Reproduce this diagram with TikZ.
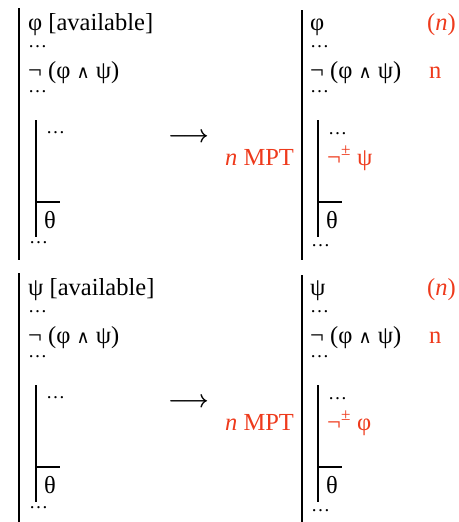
\documentclass[tikz,border=0pt]{standalone}
\usepackage{fontspec}
\setmainfont{Liberation Serif}
\newfontfamily\djvserif{DejaVu Serif}
\newcommand{\myand}{{\djvserif\fontsize{18}{18}\selectfont ∧}}
\newcommand{\thickarrow}{\rlap{$\longrightarrow$}\kern0.5pt$\longrightarrow$}
\definecolor{hl}{RGB}{238,58,28}
\begin{document}
\begin{tikzpicture}[x=1pt,y=-1pt,
  txt/.style={anchor=base west,inner sep=0pt,font=\fontsize{24.5}{28}\selectfont},
  dots/.style={anchor=base west,inner sep=0pt,text height=3pt,text depth=0pt,font=\fontsize{19}{20}\selectfont},
  red/.style={txt,text=hl},
  bar/.style={line width=1.6pt},
  hbar/.style={line width=1.2pt}]
\useasboundingbox (0,0) rectangle (458,522);
\foreach \o/\a/\b in {0/φ/ψ, 265/ψ/φ}{
  % left block
  \coordinate (lt\o) at (19,8+\o);
  \coordinate (lb\o) at (19,{min(260+\o,522)});
  \draw[bar] (lt\o) -- (lb\o);
  \node[txt] (l1\o) at (28,30+\o) {\a\ [available]};
  \node[dots] (l2\o) at (28,47+\o) {…};
  \node[txt] (l3\o) at (28,78+\o) {¬ (φ \myand\ ψ)};
  \node[dots] (l4\o) at (28,92+\o) {…};
  \coordinate (it\o) at (36,120+\o);
  \coordinate (ib\o) at (36,237+\o);
  \draw[bar] (it\o) -- (ib\o);
  \node[dots] (l5\o) at (46,133+\o) {…};
  \coordinate (hl\o) at (36,202+\o);
  \coordinate (hr\o) at (60,202+\o);
  \draw[hbar] (hl\o) -- (hr\o);
  \node[txt] (l6\o) at (44,228+\o) {θ};
  \node[dots] (l7\o) at (29,243+\o) {…};
  % arrow and label
  \node[txt,font=\fontsize{33}{33}\selectfont] (ar\o) at (168,142+\o) {\thickarrow};
  \node[red] (mp\o) at (225,165+\o) {\textit{n} MPT};
  % right block
  \coordinate (rt\o) at (302,10+\o);
  \coordinate (rb\o) at (302,{min(260+\o,522)});
  \draw[bar] (rt\o) -- (rb\o);
  \node[txt] (r1\o) at (310,30+\o) {\a};
  \node[red] (rn\o) at (427,30+\o) {(\textit{n})};
  \node[dots] (r2\o) at (310,47+\o) {…};
  \node[txt] (r3\o) at (310,78+\o) {¬ (φ \myand\ ψ)};
  \node[red] (rm\o) at (429,78+\o) {n};
  \node[dots] (r4\o) at (310,92+\o) {…};
  \coordinate (jt\o) at (318,120+\o);
  \coordinate (jb\o) at (318,237+\o);
  \draw[bar] (jt\o) -- (jb\o);
  \node[dots] (r5\o) at (328,134+\o) {…};
  \node[red] (r6\o) at (327,165+\o) {¬\textsuperscript{±} \b};
  \coordinate (kl\o) at (318,202+\o);
  \coordinate (kr\o) at (342,202+\o);
  \draw[hbar] (kl\o) -- (kr\o);
  \node[txt] (r7\o) at (326,228+\o) {θ};
  \node[dots] (r8\o) at (311,246+\o) {…};
}
\end{tikzpicture}
\end{document}
